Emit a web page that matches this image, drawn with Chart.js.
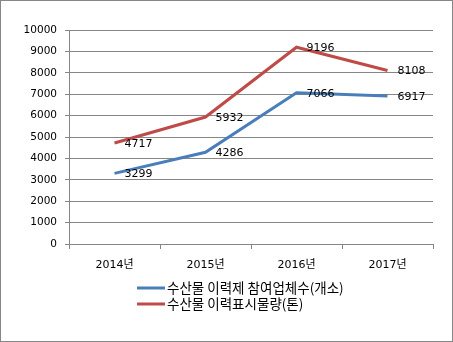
<!DOCTYPE html>
<html>
<head>
<meta charset="utf-8">
<script src="https://cdn.jsdelivr.net/npm/chart.js@4/dist/chart.umd.min.js"></script>
<style>
  html, body { margin: 0; padding: 0; background: #fff; }
  #wrap { width: 453px; height: 342px; position: relative; }
</style>
</head>
<body>
<div id="wrap"><canvas id="chart" width="453" height="342"></canvas></div>
<script>
const years = ["2014년", "2015년", "2016년", "2017년"];
const companies = [3299, 4286, 7066, 6917];
const volume = [4717, 5932, 9196, 8108];
const seriesNames = ["수산물 이력제 참여업체수(개소)", "수산물 이력표시물량(톤)"];
const yTicks = [0, 10000, 1000];

const FONT = '"DejaVu Sans", "Noto Sans CJK KR", sans-serif';
const KFONT = '"Noto Sans CJK KR", sans-serif';

/* ---------- PLUGINS ---------- */

const frame = {
  id: "frame",
  beforeDraw(chart) {
    const ctx = chart.ctx;
    ctx.save();
    ctx.fillStyle = "#fff";
    ctx.fillRect(0, 0, chart.width, chart.height);
    ctx.strokeStyle = "#868686";
    ctx.lineWidth = 1;
    ctx.strokeRect(0.5, 0.5, chart.width - 1, chart.height - 1);
    ctx.restore();
  }
};

const valueLabels = {
  id: "valueLabels",
  afterDatasetsDraw(chart) {
    const ctx = chart.ctx;
    ctx.save();
    ctx.font = "11px " + FONT;
    ctx.fillStyle = "#000";
    ctx.textAlign = "left";
    ctx.textBaseline = "middle";
    chart.data.datasets.forEach((ds, i) => {
      chart.getDatasetMeta(i).data.forEach((pt, j) => {
        ctx.fillText(String(ds.data[j]), pt.x + 10, pt.y + 1);
      });
    });
    ctx.restore();
  }
};

const bottomLegend = {
  id: "bottomLegend",
  afterDraw(chart) {
    const ctx = chart.ctx;
    ctx.save();
    ctx.font = "13.5px " + KFONT;
    ctx.textBaseline = "middle";
    ctx.textAlign = "left";
    chart.data.datasets.forEach((ds, i) => {
      const y = 288 + i * 16;
      ctx.strokeStyle = ds.borderColor;
      ctx.lineWidth = 3;
      ctx.beginPath();
      ctx.moveTo(137, y);
      ctx.lineTo(165, y);
      ctx.stroke();
      ctx.fillStyle = "#000";
      ctx.fillText(ds.label, 167, y);
    });
    ctx.restore();
  }
};

/* ---------- CHART ---------- */

new Chart(document.getElementById("chart"), {
  type: "line",
  data: {
    labels: years,
    datasets: [
      {
        label: seriesNames[0],
        data: companies,
        borderColor: "#4a7ebb",
        borderWidth: 3,
        pointRadius: 0,
        tension: 0
      },
      {
        label: seriesNames[1],
        data: volume,
        borderColor: "#be4b48",
        borderWidth: 3,
        pointRadius: 0,
        tension: 0
      }
    ]
  },
  options: {
    responsive: false,
    animation: false,
    layout: { padding: { top: 30, right: 20, left: 0, bottom: 0 } },
    plugins: {
      legend: { display: false },
      tooltip: { enabled: false }
    },
    scales: {
      x: {
        offset: true,
        afterFit(scale) { scale.height = 98; },
        grid: {
          offset: true,
          drawOnChartArea: false,
          drawTicks: true,
          tickLength: 5,
          color: "#868686"
        },
        border: { color: "#868686" },
        ticks: {
          color: "#000",
          padding: 10,
          font: { family: FONT, size: 11 }
        }
      },
      y: {
        min: yTicks[0],
        max: yTicks[1],
        afterFit(scale) { scale.width = 69; },
        grid: {
          color: "#868686",
          tickLength: 4
        },
        border: { color: "#868686" },
        ticks: {
          stepSize: yTicks[2],
          color: "#000",
          padding: 8,
          callback: v => String(v),
          font: { family: FONT, size: 10.5 }
        }
      }
    }
  },
  plugins: [frame, valueLabels, bottomLegend]
});
</script>
</body>
</html>
